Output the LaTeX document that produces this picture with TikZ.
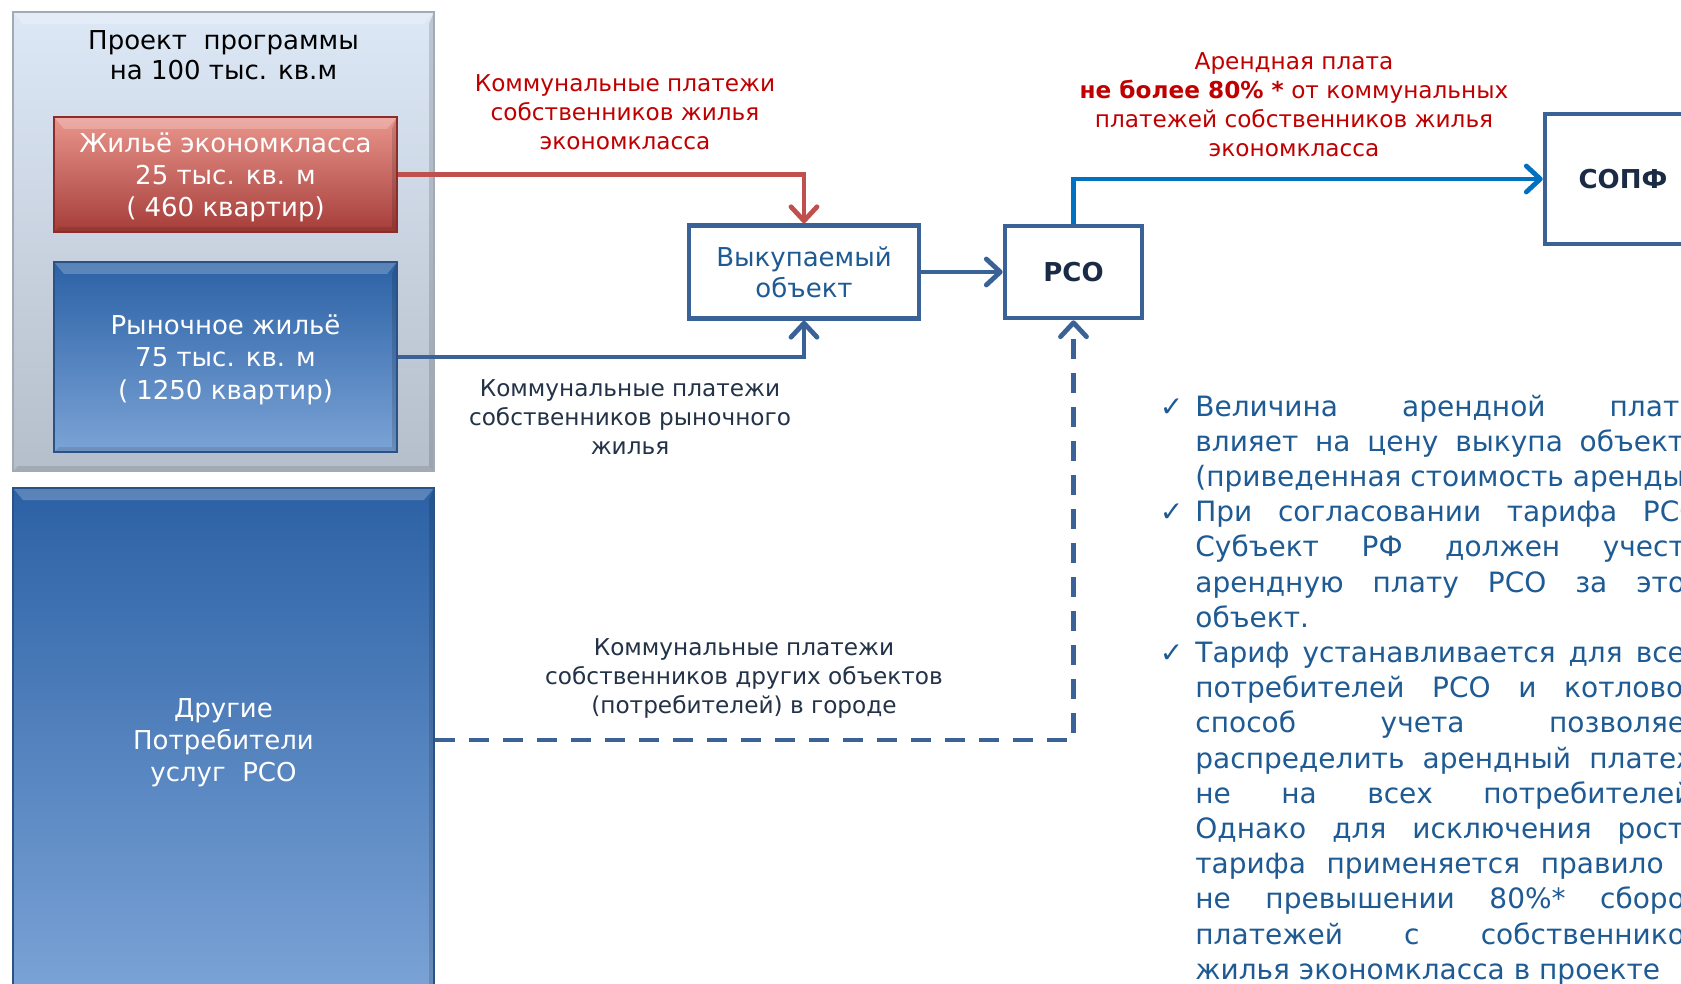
\documentclass[tikz,border=0pt]{standalone}
\usepackage{fontspec}
\setmainfont{DejaVu Sans}
\usetikzlibrary{positioning,arrows.meta}

\definecolor{frameblue}{HTML}{3B6296}
\definecolor{arrowred}{HTML}{C0504D}
\definecolor{arrowblue}{HTML}{0070C0}
\definecolor{labelred}{HTML}{C00000}
\definecolor{labeldark}{HTML}{233247}
\definecolor{textblue}{HTML}{1E5A93}
\definecolor{titledark}{HTML}{1C2B45}
\definecolor{projtop}{HTML}{DDE8F6}
\definecolor{projbot}{HTML}{B5BECB}
\definecolor{projline}{HTML}{A2AAB4}
\definecolor{econtop}{HTML}{E9968D}
\definecolor{econbot}{HTML}{A63D39}
\definecolor{econline}{HTML}{8C2D2A}
\definecolor{mkttop}{HTML}{2B61A5}
\definecolor{mktbot}{HTML}{7BA3D6}
\definecolor{mktline}{HTML}{2A5286}

\newlength{\factwidth}
\setlength{\factwidth}{253pt}
\newcommand{\jline}[1]{\makebox[\factwidth][s]{#1}}
\newcommand{\chk}{\leavevmode\llap{{\fontsize{14}{14}\selectfont ✓}\hskip 6pt}}

\begin{document}
\begin{tikzpicture}[
  x=0.5pt, y=-0.5pt,
  >={Straight Barb[round, length=7pt, width=13pt]},
  bevel/.style={path picture={
    \fill[white, opacity=0.22] (path picture bounding box.north west) -- (path picture bounding box.north east)
      -- ([xshift=-5pt, yshift=-6pt]path picture bounding box.north east)
      -- ([xshift=5pt, yshift=-6pt]path picture bounding box.north west) -- cycle;
    \fill[black, opacity=0.14] (path picture bounding box.north east) -- (path picture bounding box.south east)
      -- ([xshift=-2.5pt, yshift=2.5pt]path picture bounding box.south east)
      -- ([xshift=-2.5pt, yshift=-6pt]path picture bounding box.north east) -- cycle;
    \fill[black, opacity=0.10] (path picture bounding box.south west) -- (path picture bounding box.south east)
      -- ([xshift=-2.5pt, yshift=2.5pt]path picture bounding box.south east)
      -- ([xshift=2.5pt, yshift=2.5pt]path picture bounding box.south west) -- cycle;}},
  block/.style={draw, line width=0.8pt, align=center, text=white, inner sep=0pt, bevel,
    text depth=0pt, font=\fontsize{13}{16.1}\selectfont},
  frame/.style={draw=frameblue, line width=2.3pt, fill=white, align=center, inner sep=0pt,
    font=\fontsize{13}{15.5}\selectfont},
  note/.style={align=center, inner sep=0pt, text=labeldark, font=\fontsize{11.6}{14.5}\selectfont},
  flow/.style={->, line width=2.4pt, draw=frameblue},
  facts/.style={anchor=base west, inner sep=0pt, align=justify, text width=253pt, text=textblue,
    font=\fontsize{14}{17.6}\selectfont}
]
\useasboundingbox (0,0) rectangle (1681,984);
\clip (0,0) rectangle (1681,984);

% Project and its housing
\node[block, draw=projline, top color=projtop, bottom color=projbot,
  minimum width=210.5pt, minimum height=229.5pt] (project) at (223.5,241.5) {};
\node[align=center, inner sep=0pt, font=\fontsize{13}{15.2}\selectfont] (projtitle) at (223.5,55)
  {Проект\ \ программы\\на 100 тыс. кв.м};
\node[block, draw=econline, top color=econtop, bottom color=econbot,
  minimum width=171.5pt, minimum height=57.5pt] (econ) at (225.5,174.5)
  {Жильё экономкласса\\25 тыс. кв. м\\( 460 квартир)};
\node[block, draw=mktline, top color=mkttop, bottom color=mktbot,
  minimum width=171.5pt, minimum height=95pt] (market) at (225.5,357)
  {Рыночное жильё\\75 тыс. кв. м\\( 1250 квартир)};
\node[block, draw=mktline, top color=mkttop, bottom color=mktbot,
  minimum width=210.5pt, minimum height=252pt] (others) at (223.5,740)
  {Другие\\Потребители\\услуг\ \ РСО};

% Object, RSO, fund
\node[frame, text=textblue, minimum width=115pt, minimum height=46.5pt] (vykup) at (804,272)
  {Выкупаемый\\объект};
\node[frame, text=titledark, font=\fontsize{13}{15.5}\selectfont\bfseries,
  minimum width=68.5pt, minimum height=46pt] (rso) at (1073.5,272) {РСО};
\node[frame, text=titledark, font=\fontsize{13}{15.5}\selectfont\bfseries,
  minimum width=78pt, minimum height=65pt] (sopf) at (1623,179) {СОПФ};

% Payments
\draw[flow, draw=arrowred] (econ.east) -| (vykup.north);
\draw[flow] (market.east) -| (vykup.south);
\draw[flow] (vykup) -- (rso);
\draw[flow, draw=arrowblue] (rso.north) |- (sopf.west);
\draw[flow, dash pattern=on 10pt off 7pt] (others.east) -| (rso.south);

% Labels
\node[note, text=labelred] (econpay) at (625,112)
  {Коммунальные платежи\\собственников жилья\\экономкласса};
\node[note] (marketpay) at (630,417)
  {Коммунальные платежи\\собственников рыночного\\жилья};
\node[note] (otherpay) at (744,678)
  {Коммунальные платежи\\собственников других объектов\\(потребителей) в городе};
\node[note, text=labelred] (rent) at (1294,104.5)
  {Арендная плата\\\textbf{не более 80\% *} от коммунальных\\платежей собственников жилья\\экономкласса};

% Notes on the right
\node[facts] (facts) at (1195,416) {%
\chk\jline{Величина арендной платы}\\
\jline{влияет на цену выкупа объекта}\\
(приведенная стоимость аренды)\\
\chk\jline{При согласовании тарифа РСО}\\
\jline{Субъект РФ должен учесть}\\
\jline{арендную плату РСО за этот}\\
объект.\\
\chk\jline{Тариф устанавливается для всех}\\
\jline{потребителей РСО и котловой}\\
\jline{способ учета позволяет}\\
\jline{распределить арендный платеж}\\
\jline{не на всех потребителей.}\\
\jline{Однако для исключения роста}\\
\jline{тарифа применяется правило о}\\
\jline{не превышении 80\%* сборов}\\
\jline{платежей с собственников}\\
жилья экономкласса в проекте};

\end{tikzpicture}
\end{document}
